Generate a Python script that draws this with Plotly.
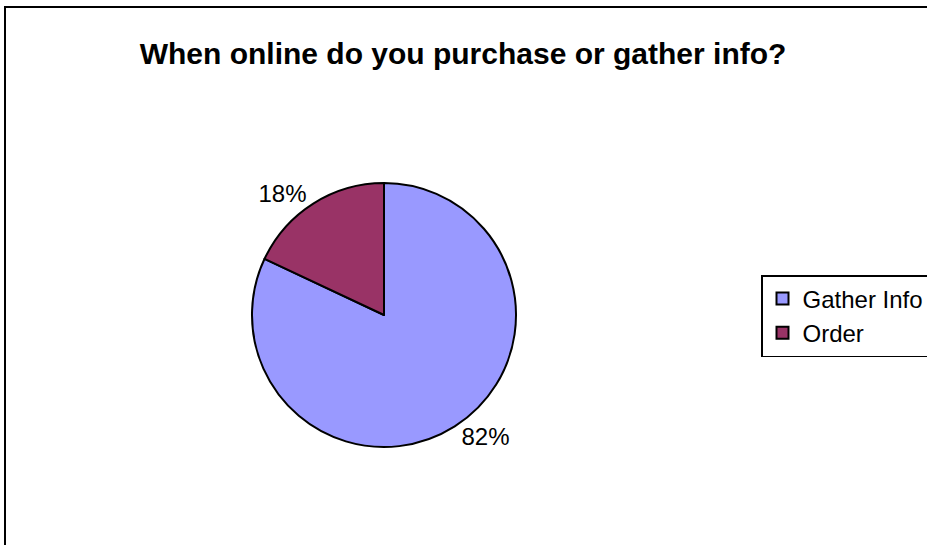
import plotly.graph_objects as go

labels = ["Gather Info", "Order"]
values = [82, 18]
colors = ["#9999FF", "#993366"]

W, H = 927, 545
FONT = "Liberation Sans, Arial, sans-serif"
cx, cy, r = 384, 315, 132  # pie centre and radius in page pixels

fig = go.Figure(go.Pie(
    labels=labels, values=values, sort=False, direction="clockwise", rotation=0,
    marker=dict(colors=colors, line=dict(color="black", width=2)),
    textposition="outside",
    texttemplate="%{percent:.0%}",
    textfont=dict(family=FONT, size=24, color="black"),
    domain=dict(x=[(cx - r) / W, (cx + r) / W], y=[(H - cy - r) / H, (H - cy + r) / H]),
    showlegend=True,
))
fig.update_layout(
    width=W, height=H, margin=dict(l=0, r=0, t=0, b=0, autoexpand=False),
    paper_bgcolor="white", plot_bgcolor="white",
    title=dict(text="<b>When online do you purchase or gather info?</b>", x=463 / W, xanchor="center",
               y=1 - 53 / H, yanchor="middle",
               font=dict(family=FONT, size=30, color="black")),
    legend=dict(xref="container", yref="container", x=761 / W, y=1 - 275 / H,
                xanchor="left", yanchor="top",
                bordercolor="black", borderwidth=1.5, bgcolor="white",
                font=dict(family=FONT, size=24, color="black"),
                itemwidth=30),
    shapes=[dict(type="rect", xref="paper", yref="paper", x0=5 / W, x1=1.05, y0=-0.05, y1=1 - 7 / H,
                 line=dict(color="black", width=2), fillcolor="rgba(0,0,0,0)")],
)
fig.write_html("out.html", config={"displayModeBar": False},
               post_script="document.body.style.margin='0';")
